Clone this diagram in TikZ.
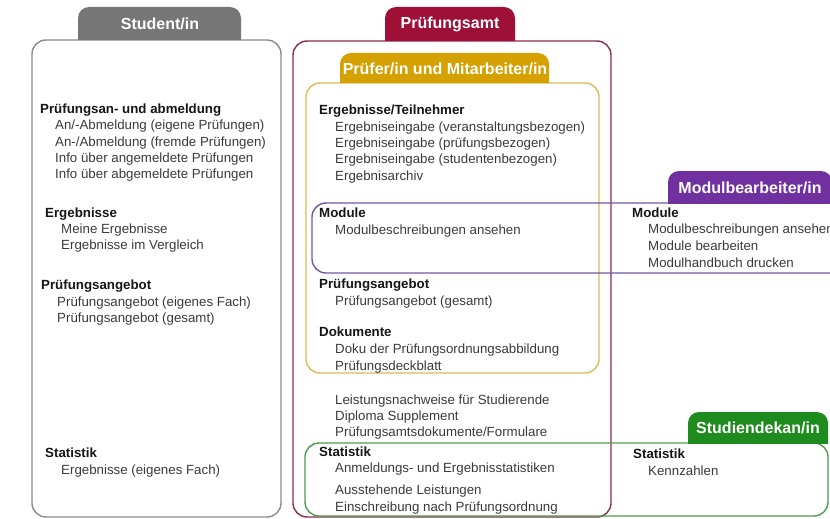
\documentclass[tikz,border=0pt]{standalone}
\usepackage{fontspec}
\setmainfont{Liberation Sans}
\usetikzlibrary{positioning}
\definecolor{studtab}{HTML}{767676}
\definecolor{studline}{HTML}{8A8A8A}
\definecolor{amttab}{HTML}{9E1038}
\definecolor{amtline}{HTML}{8C2A52}
\definecolor{pruetab}{HTML}{D5A100}
\definecolor{prueline}{HTML}{DDBA55}
\definecolor{modtab}{HTML}{7030A0}
\definecolor{modline}{HTML}{7356A6}
\definecolor{dektab}{HTML}{1E8B1E}
\definecolor{dekline}{HTML}{4C9C4C}
\definecolor{headcol}{HTML}{151515}
\definecolor{itemcol}{HTML}{3A3A3A}
% tab on top of a frame: colour, left, right, top, bottom
\newcommand{\tabshape}[5]{%
  \begin{scope}
    \clip (#2,#4) rectangle (#3,#5);
    \fill[#1, rounded corners=11pt] (#2,#4) rectangle (#3,#5+20);
  \end{scope}}
\tikzset{
    %Define style for tab labels
    tablabel/.style={
           text=white,
           inner sep=0pt,
           font=\fontsize{16}{18}\selectfont\bfseries},
    %Define style for frames
    frame/.style={
           line width=1.4pt,
           rounded corners=14pt},
    % Define text styles
    head/.style={
           anchor=base west,
           inner sep=0pt,
           text=headcol,
           font=\fontsize{13.3}{16}\selectfont\bfseries},
    item/.style={
           anchor=base west,
           inner sep=0pt,
           text=itemcol,
           font=\fontsize{13.3}{16}\selectfont}
}
\begin{document}
\begin{tikzpicture}[x=1pt, y=-1pt]
    \useasboundingbox (0,0) rectangle (830,519);
    \clip (0,0) rectangle (830,519);
 %frames
    \draw[frame, studline] (32,40) rectangle (281,517);
    \draw[frame, amtline] (293,41) rectangle (611,517);
    \draw[frame, prueline] (306,83) rectangle (599,373);
    \draw[frame, modline] (312,203) rectangle (845,273);
    \draw[frame, dekline] (305,443) rectangle (828,516);
 %tabs
    \tabshape{studtab}{78}{241}{7}{40}
    \tabshape{amttab}{385}{515}{7}{41}
    \tabshape{pruetab}{340}{549}{53}{83}
    \tabshape{modtab}{668}{832}{171}{203}
    \tabshape{dektab}{688}{828}{412}{443}
    \node[tablabel] (student) at (160,24) {Student/in};
    \node[tablabel] (amt) at (450,24) {Prüfungsamt};
    \node[tablabel] (pruefer) at (445,69) {Prüfer/in und Mitarbeiter/in};
    \node[tablabel] (modbearb) at (750,188) {Modulbearbeiter/in};
    \node[tablabel] (dekan) at (758,428) {Studiendekan/in};
 %student
    \node[head] (s-anm) at (40,113) {Prüfungsan- und abmeldung};
    \node[item] (s-anm1) at (55,129.5) {An/-Abmeldung (eigene Prüfungen)};
    \node[item] (s-anm2) at (55,146) {An-/Abmeldung (fremde Prüfungen)};
    \node[item] (s-anm3) at (55,162) {Info über angemeldete Prüfungen};
    \node[item] (s-anm4) at (55,178) {Info über abgemeldete Prüfungen};
    \node[head] (s-erg) at (45,217) {Ergebnisse};
    \node[item] (s-erg1) at (61,233) {Meine Ergebnisse};
    \node[item] (s-erg2) at (61,249) {Ergebnisse im Vergleich};
    \node[head] (s-ang) at (41,289) {Prüfungsangebot};
    \node[item] (s-ang1) at (57,306) {Prüfungsangebot (eigenes Fach)};
    \node[item] (s-ang2) at (57,322) {Prüfungsangebot (gesamt)};
    \node[head] (s-stat) at (45,457) {Statistik};
    \node[item] (s-stat1) at (61,474) {Ergebnisse (eigenes Fach)};
 %pruefer and pruefungsamt
    \node[head] (p-erg) at (319,114) {Ergebnisse/Teilnehmer};
    \node[item] (p-erg1) at (335,131) {Ergebniseingabe (veranstaltungsbezogen)};
    \node[item] (p-erg2) at (335,147) {Ergebniseingabe (prüfungsbezogen)};
    \node[item] (p-erg3) at (335,163) {Ergebniseingabe (studentenbezogen)};
    \node[item] (p-erg4) at (335,180) {Ergebnisarchiv};
    \node[head] (p-mod) at (319,217) {Module};
    \node[item] (p-mod1) at (335,234) {Modulbeschreibungen ansehen};
    \node[head] (p-ang) at (319,288) {Prüfungsangebot};
    \node[item] (p-ang1) at (335,305) {Prüfungsangebot (gesamt)};
    \node[head] (p-dok) at (319,336) {Dokumente};
    \node[item] (p-dok1) at (335,353) {Doku der Prüfungsordnungsabbildung};
    \node[item] (p-dok2) at (335,370) {Prüfungsdeckblatt};
    \node[item] (a-dok1) at (335,404) {Leistungsnachweise für Studierende};
    \node[item] (a-dok2) at (335,420) {Diploma Supplement};
    \node[item] (a-dok3) at (335,436) {Prüfungsamtsdokumente/Formulare};
    \node[head] (a-stat) at (319,456) {Statistik};
    \node[item] (a-stat1) at (335,472) {Anmeldungs- und Ergebnisstatistiken};
    \node[item] (a-stat2) at (335,494) {Ausstehende Leistungen};
    \node[item] (a-stat3) at (335,511) {Einschreibung nach Prüfungsordnung};
 %modulbearbeiter and studiendekan
    \node[head] (m-mod) at (632,217) {Module};
    \node[item] (m-mod1) at (648,233) {Modulbeschreibungen ansehen};
    \node[item] (m-mod2) at (648,250) {Module bearbeiten};
    \node[item] (m-mod3) at (648,267) {Modulhandbuch drucken};
    \node[head] (d-stat) at (633,458) {Statistik};
    \node[item] (d-stat1) at (648,475) {Kennzahlen};
\end{tikzpicture}
\end{document}
